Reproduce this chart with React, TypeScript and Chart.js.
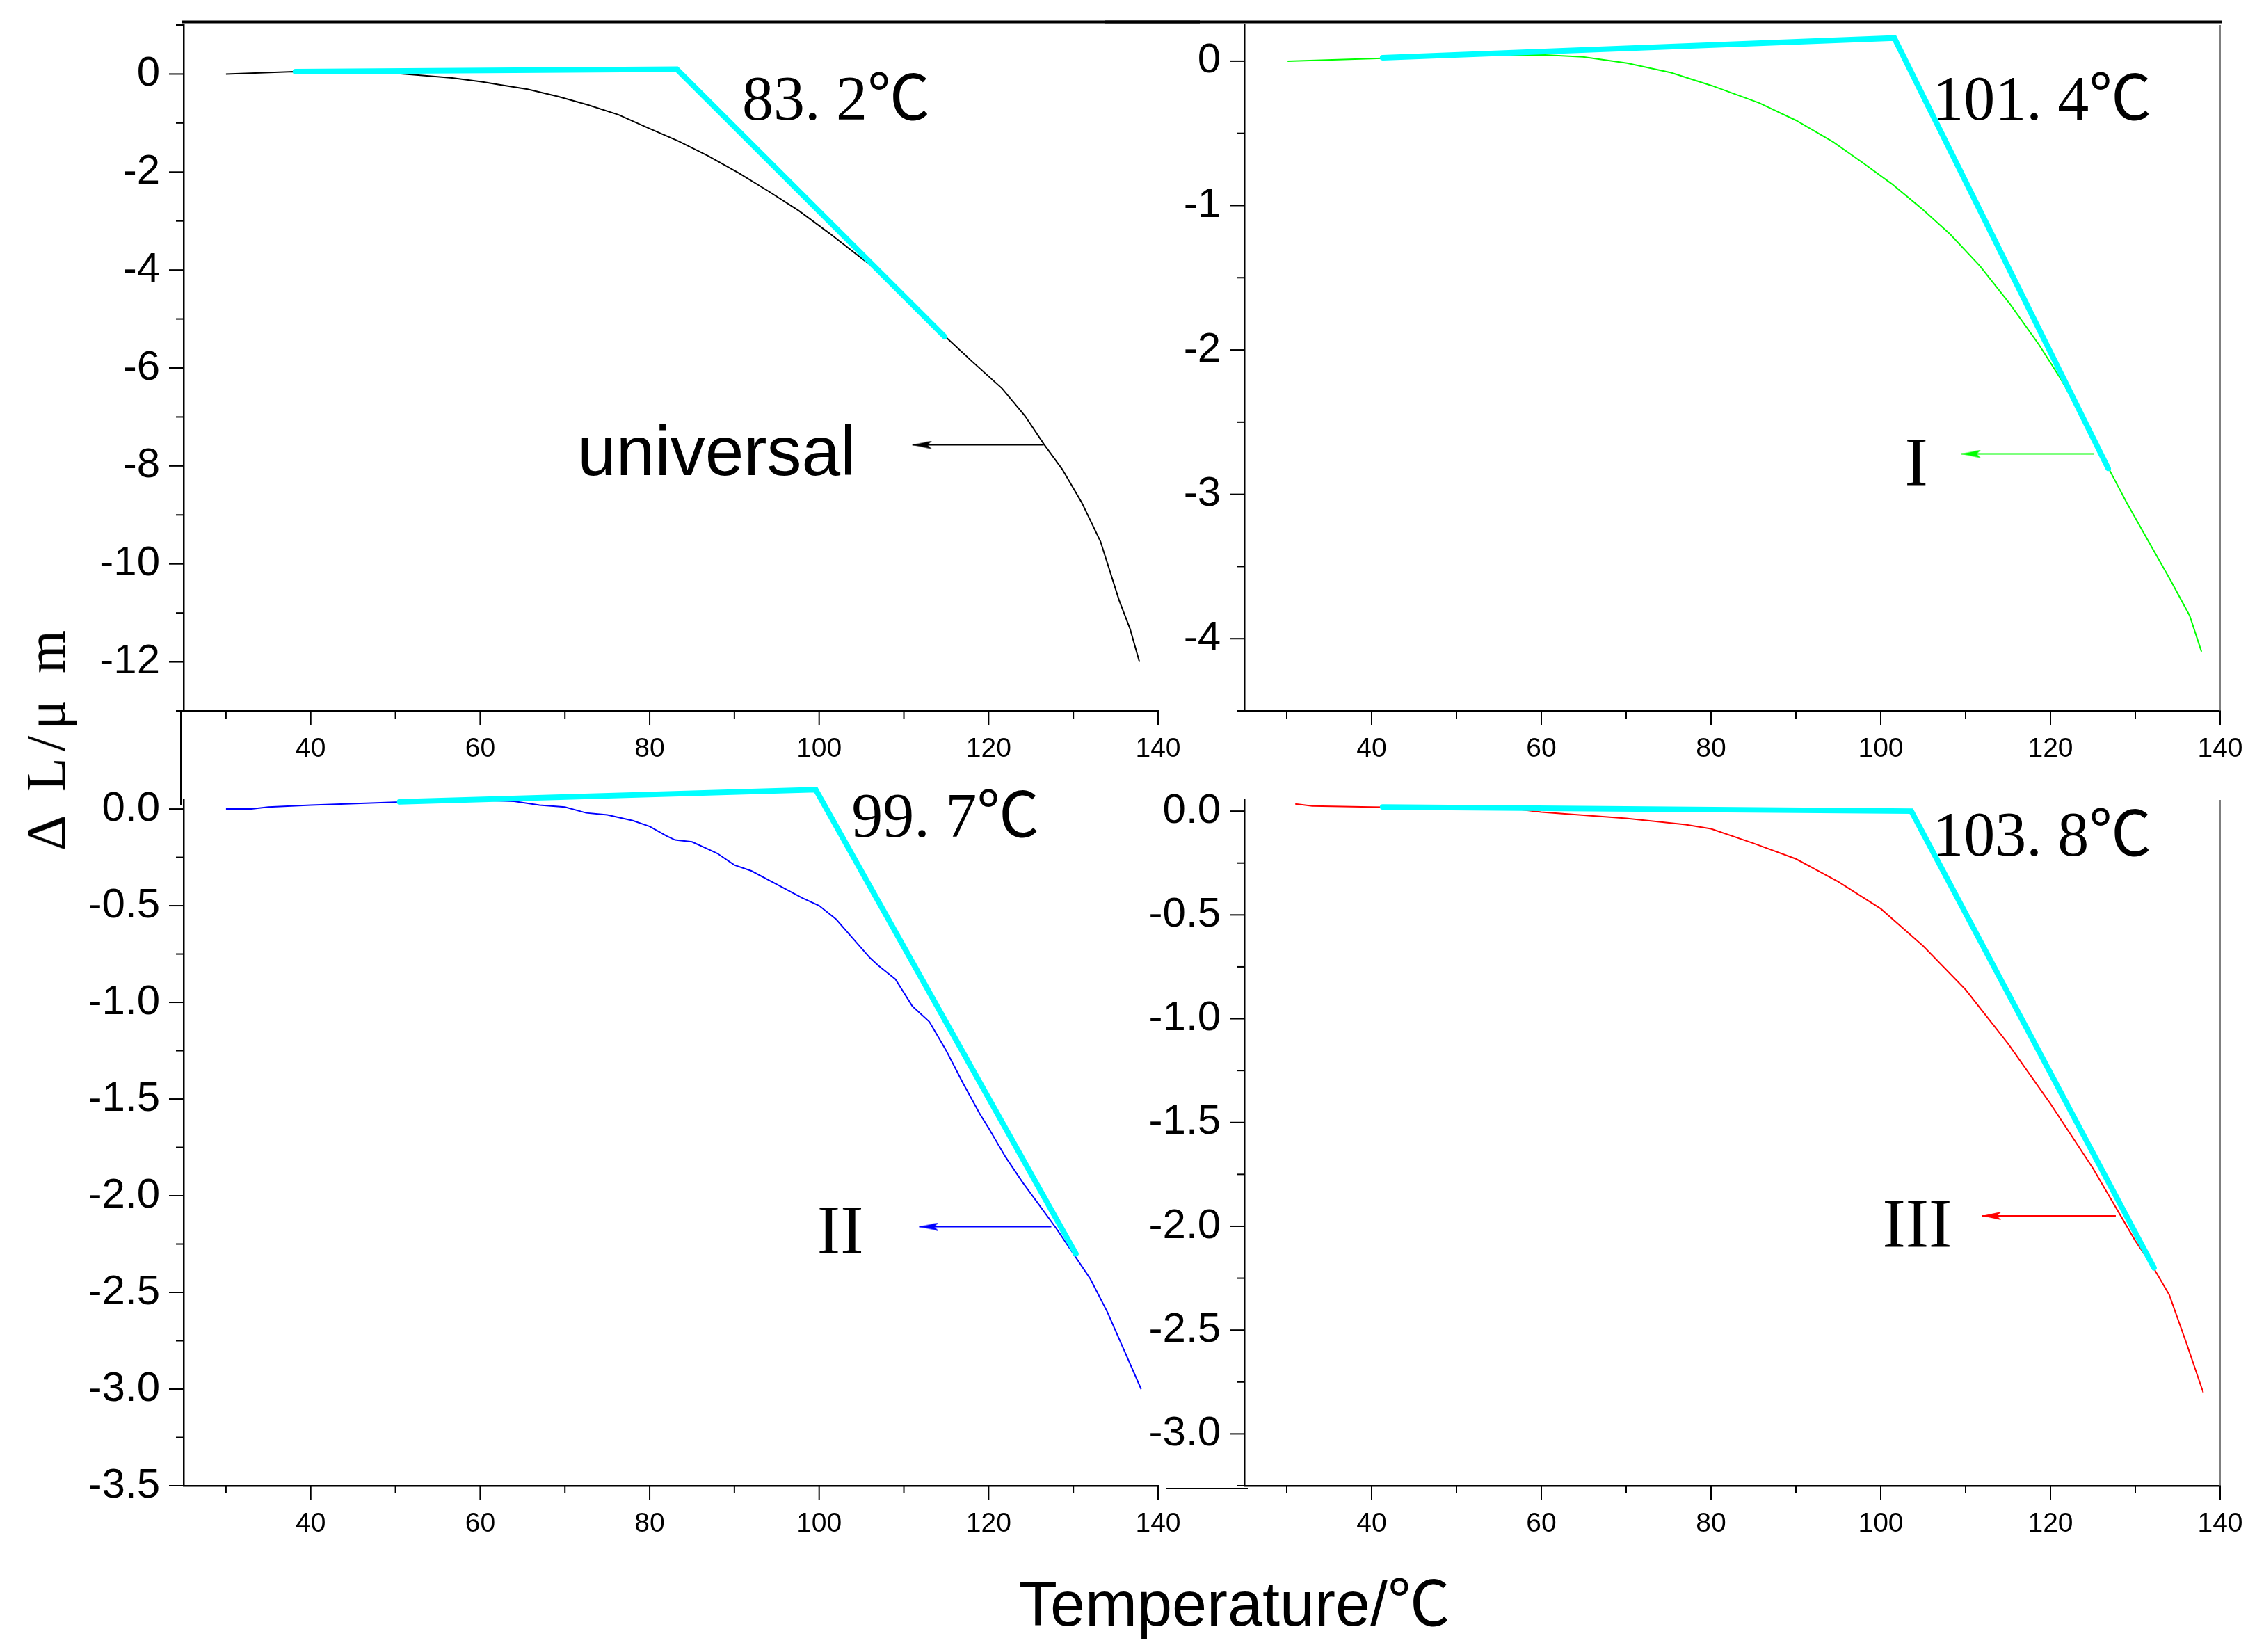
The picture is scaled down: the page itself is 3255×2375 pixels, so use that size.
import { useEffect, useRef } from 'react';
import { Chart, registerables } from 'chart.js';

Chart.register(...registerables);

// ---- values ----
const X_TICKS = [40, 60, 80, 100, 120, 140];

// universal (black)
const tempUniversal = [30, 38, 49.6, 53.2, 56.7, 60.3, 62, 65.6, 69.2, 72.7, 76.3, 79.8, 83.4, 86.9, 90.5, 94, 97.6, 101.2, 104.7, 106.9, 110, 114.9, 118, 121.6, 124.3, 126.5, 128.7, 131, 133.2, 135.4, 136.7, 137.8];
const dlUniversal = [0, 0.05, 0.02, -0.03, -0.08, -0.16, -0.21, -0.31, -0.46, -0.63, -0.83, -1.1, -1.37, -1.67, -2.02, -2.39, -2.79, -3.25, -3.72, -4.01, -4.51, -5.36, -5.86, -6.42, -6.98, -7.55, -8.07, -8.75, -9.54, -10.74, -11.33, -12.0];
const fitTUniversal = [38.2, 83.2, 114.8];
const fitVUniversal = [0.05, 0.1, -5.36];
const arrowTUniversal = [126.5, 111.0];
const arrowVUniversal = [-7.57, -7.57];
const yTicksUniversal = [0, -2, -4, -6, -8, -10, -12];

// I (green)
const tempI = [30.1, 40, 50.2, 60, 64.9, 70.1, 75.3, 80.1, 85.7, 90, 94.4, 97.8, 101.3, 104.8, 108.2, 111.7, 115.2, 118.6, 121.2, 123.8, 126.4, 129, 131.6, 134.2, 136.4, 137.8];
const dlI = [0, 0.017, 0.037, 0.044, 0.03, -0.014, -0.08, -0.17, -0.29, -0.41, -0.56, -0.7, -0.85, -1.02, -1.2, -1.42, -1.68, -1.96, -2.2, -2.47, -2.77, -3.06, -3.33, -3.6, -3.84, -4.09];
const fitTI = [41.3, 101.6, 126.8];
const fitVI = [0.024, 0.16, -2.82];
const arrowTI = [125.1, 109.5];
const arrowVI = [-2.72, -2.72];
const yTicksI = [0, -1, -2, -3, -4];

// II (blue)
const tempII = [30, 33, 35, 40, 50, 60, 64, 67, 70, 72.5, 75, 78, 80, 82, 83, 85, 87, 88, 90, 92, 95, 98, 100, 102, 104, 106, 107, 109, 111, 113, 115, 117, 119, 120, 122, 124, 126, 128, 130, 132, 134, 136, 138];
const dlII = [0, 0.0, 0.01, 0.02, 0.035, 0.045, 0.04, 0.02, 0.01, -0.02, -0.03, -0.06, -0.09, -0.14, -0.16, -0.17, -0.21, -0.23, -0.29, -0.32, -0.39, -0.46, -0.5, -0.57, -0.67, -0.77, -0.81, -0.88, -1.02, -1.1, -1.25, -1.42, -1.58, -1.65, -1.8, -1.93, -2.05, -2.17, -2.3, -2.43, -2.6, -2.8, -3.0];
const fitTII = [50.5, 99.6, 130.3];
const fitVII = [0.037, 0.1, -2.3];
const arrowTII = [127.4, 111.8];
const arrowVII = [-2.16, -2.16];
const yTicksII = [0, -0.5, -1, -1.5, -2, -2.5, -3, -3.5];

// III (red)
const tempIII = [31, 33, 40, 50, 57, 60, 70, 77, 80, 85, 90, 95, 100, 105, 110, 115, 120, 125, 130, 132, 134, 136, 138];
const dlIII = [0.035, 0.025, 0.02, 0.015, 0.01, -0.005, -0.035, -0.065, -0.085, -0.155, -0.23, -0.34, -0.47, -0.65, -0.86, -1.12, -1.41, -1.72, -2.07, -2.19, -2.33, -2.56, -2.8];
const fitTIII = [41.3, 103.6, 132.2];
const fitVIII = [0.02, 0.0, -2.2];
const arrowTIII = [127.7, 111.9];
const arrowVIII = [-1.95, -1.95];
const yTicksIII = [0, -0.5, -1, -1.5, -2, -2.5, -3];

// ---- layout ----
const Y_W = 160;
const X_H = 110;
const PAD = { left: 40, top: 50, right: 60, bottom: 60 };

const SANS = '"Liberation Sans", Arial, "Noto Sans CJK SC", sans-serif';
const SERIF = '"Liberation Serif", "Noto Sans CJK SC", serif';

function makeHead(color: string) {
  const L = 28;
  const H = 6;
  const c = document.createElement('canvas');
  c.width = L * 2;
  c.height = H * 2;
  const g = c.getContext('2d')!;
  g.fillStyle = color;
  g.beginPath();
  g.moveTo(L, H);
  g.lineTo(L * 2, 0);
  g.lineTo(L * 2 - 6, H);
  g.lineTo(L * 2, H * 2);
  g.closePath();
  g.fill();
  return c;
}

const originFrame = {
  id: 'originFrame',
  afterDraw(chart: any, _args: any, opts: any) {
    const { ctx, chartArea: a } = chart;
    const xs = chart.scales.x;
    const ys = chart.scales.y;
    const line = (x1: number, y1: number, x2: number, y2: number) => {
      ctx.beginPath();
      ctx.moveTo(x1, y1);
      ctx.lineTo(x2, y2);
      ctx.stroke();
    };
    const minors = (scale: any) => {
      const maj = scale.ticks.map((t: any) => t.value).sort((p: number, q: number) => p - q);
      const half = (maj[1] - maj[0]) / 2;
      const out: number[] = [];
      const cand = [maj[0] - half, ...maj.map((v: number) => v + half)];
      cand.forEach((v) => {
        if (v >= scale.min - 1e-9 && v <= scale.max + 1e-9) out.push(v);
      });
      return { maj, out };
    };
    ctx.save();
    ctx.strokeStyle = '#000';
    ctx.lineWidth = 2;
    const mx = minors(xs);
    mx.maj.forEach((v: number) => { const p = xs.getPixelForValue(v); line(p, a.bottom, p, a.bottom + 21); });
    mx.out.forEach((v: number) => { const p = xs.getPixelForValue(v); line(p, a.bottom, p, a.bottom + 11); });
    const my = minors(ys);
    my.maj.forEach((v: number) => { const p = ys.getPixelForValue(v); line(a.left, p, a.left - 21, p); });
    my.out.forEach((v: number) => { const p = ys.getPixelForValue(v); line(a.left, p, a.left - 11, p); });

    ctx.lineWidth = 4;
    if (opts.top === 'toRight') line(a.left - 2, a.top - 4.5, chart.width, a.top - 4.5);
    if (opts.top === 'toLeft') line(0, a.top - 4.5, a.right + 2, a.top - 4.5);
    ctx.lineWidth = 2;
    if (opts.leftDown) line(a.left - 4, a.bottom, a.left - 4, a.bottom + opts.leftDown);
    if (opts.bottomLeft) line(a.left - opts.bottomLeft, a.bottom + 4, a.left + 5, a.bottom + 4);
    if (opts.right) {
      ctx.strokeStyle = '#555';
      ctx.lineWidth = 1.5;
      line(a.right, a.top, a.right, a.bottom);
    }

    ctx.fillStyle = '#000';
    ctx.textAlign = 'center';
    ctx.textBaseline = 'middle';
    (opts.notes || []).forEach((n: any) => {
      ctx.font = `${n.size}px ${n.family}`;
      ctx.fillText(n.text, xs.getPixelForValue(n.x), ys.getPixelForValue(n.y));
    });
    ctx.restore();
  },
};

const pts = (xs: number[], ys: number[]) => xs.map((x, i) => ({ x, y: ys[i] }));

interface Spec {
  area: { l: number; t: number; r: number; b: number };
  temps: number[];
  values: number[];
  color: string;
  fitT: number[];
  fitV: number[];
  arrowT: number[];
  arrowV: number[];
  yMin: number;
  yMax: number;
  yTicks: number[];
  decimals: number;
  frame: any;
}

const PANELS: Spec[] = [
  {
    area: { l: 264, t: 36, r: 1665, b: 1022 },
    temps: tempUniversal, values: dlUniversal, color: '#000000',
    fitT: fitTUniversal, fitV: fitVUniversal, arrowT: arrowTUniversal, arrowV: arrowVUniversal,
    yMin: -13, yMax: 1, yTicks: yTicksUniversal, decimals: 0,
    frame: {
      top: 'toRight', leftDown: 135,
      notes: [
        { text: '83. 2℃', x: 102.0, y: -0.6, size: 90, family: SERIF },
        { text: 'universal', x: 87.9, y: -7.8, size: 100, family: SANS },
      ],
    },
  },
  {
    area: { l: 1789, t: 36, r: 3192, b: 1022 },
    temps: tempI, values: dlI, color: '#00FF00',
    fitT: fitTI, fitV: fitVI, arrowT: arrowTI, arrowV: arrowVI,
    yMin: -4.5, yMax: 0.25, yTicks: yTicksI, decimals: 0,
    frame: {
      top: 'toLeft', right: true,
      notes: [
        { text: '101. 4℃', x: 119.0, y: -0.29, size: 90, family: SERIF },
        { text: 'I', x: 104.2, y: -2.81, size: 100, family: SERIF },
      ],
    },
  },
  {
    area: { l: 264, t: 1150, r: 1665, b: 2136 },
    temps: tempII, values: dlII, color: '#0000FF',
    fitT: fitTII, fitV: fitVII, arrowT: arrowTII, arrowV: arrowVII,
    yMin: -3.5, yMax: 0.047, yTicks: yTicksII, decimals: 1,
    frame: {
      notes: [
        { text: '99. 7℃', x: 114.9, y: -0.06, size: 90, family: SERIF },
        { text: 'II', x: 102.5, y: -2.2, size: 100, family: SERIF },
      ],
    },
  },
  {
    area: { l: 1789, t: 1150, r: 3192, b: 2136 },
    temps: tempIII, values: dlIII, color: '#FF0000',
    fitT: fitTIII, fitV: fitVIII, arrowT: arrowTIII, arrowV: arrowVIII,
    yMin: -3.25, yMax: 0.054, yTicks: yTicksIII, decimals: 1,
    frame: {
      right: true, bottomLeft: 113,
      notes: [
        { text: '103. 8℃', x: 119.0, y: -0.135, size: 90, family: SERIF },
        { text: 'III', x: 104.3, y: -2.01, size: 100, family: SERIF },
      ],
    },
  },
];

function boxOf(s: Spec) {
  const { l, t, r, b } = s.area;
  return {
    left: l - Y_W - PAD.left,
    top: t - PAD.top,
    w: r - l + Y_W + PAD.left + PAD.right,
    h: b - t + X_H + PAD.top + PAD.bottom,
  };
}

function Panel({ spec }: { spec: Spec }) {
  const ref = useRef<HTMLCanvasElement>(null);
  const box = boxOf(spec);

  useEffect(() => {
    if (!ref.current) return;
    const head = makeHead(spec.color);
    const chart = new Chart(ref.current, {
      type: 'line',
      data: {
        datasets: [
          {
            data: pts(spec.fitT, spec.fitV),
            borderColor: '#00FFFF',
            borderWidth: 8,
            borderCapStyle: 'round',
            borderJoinStyle: 'miter',
            pointRadius: 0,
            tension: 0,
            clip: false,
          },
          {
            data: pts(spec.arrowT, spec.arrowV),
            borderColor: spec.color,
            borderWidth: 2,
            pointRadius: [0, 5],
            pointStyle: head,
            tension: 0,
            clip: false,
          },
          {
            data: pts(spec.temps, spec.values),
            borderColor: spec.color,
            borderWidth: 2,
            pointRadius: 0,
            tension: 0,
            clip: false,
          },
        ],
      } as any,
      options: {
        responsive: false,
        animation: false,
        devicePixelRatio: 1,
        events: [],
        layout: { padding: PAD },
        plugins: {
          legend: { display: false },
          tooltip: { enabled: false },
          originFrame: spec.frame,
        } as any,
        scales: {
          x: {
            type: 'linear',
            min: 25,
            max: 140,
            afterBuildTicks: (s: any) => { s.ticks = X_TICKS.map((value) => ({ value })); },
            afterFit: (s: any) => { s.height = X_H; },
            grid: { display: true, drawOnChartArea: false, drawTicks: true, tickLength: 21, tickColor: 'rgba(0,0,0,0)' },
            border: { display: true, color: '#000', width: 2.5 },
            ticks: {
              autoSkip: false,
              maxRotation: 0,
              padding: 11,
              color: '#000',
              font: { family: SANS, size: 39 },
              callback: (v: any) => String(v),
            },
          },
          y: {
            type: 'linear',
            min: spec.yMin,
            max: spec.yMax,
            afterBuildTicks: (s: any) => { s.ticks = spec.yTicks.map((value) => ({ value })); },
            afterFit: (s: any) => { s.width = Y_W; },
            grid: { display: true, drawOnChartArea: false, drawTicks: true, tickLength: 21, tickColor: 'rgba(0,0,0,0)' },
            border: { display: true, color: '#000', width: 2.5 },
            ticks: {
              autoSkip: false,
              padding: 13,
              color: '#000',
              font: { family: SANS, size: 60 },
              callback: (v: any) => Number(v).toFixed(spec.decimals),
            },
          },
        },
      } as any,
      plugins: [originFrame],
    });
    return () => chart.destroy();
  }, []);

  return (
    <canvas
      ref={ref}
      width={box.w}
      height={box.h}
      style={{ position: 'absolute', left: box.left, top: box.top, width: box.w, height: box.h }}
    />
  );
}

export default function App() {
  return (
    <div
      style={{
        position: 'absolute',
        left: 0,
        top: 0,
        width: 3255,
        height: 2375,
        overflow: 'hidden',
        background: '#fff',
      }}
    >
      {PANELS.map((p, i) => (
        <Panel key={i} spec={p} />
      ))}
      <div
        style={{
          position: 'absolute',
          left: 66,
          top: 1060,
          transform: 'translate(-50%, -50%) rotate(-90deg)',
          whiteSpace: 'nowrap',
          fontFamily: SERIF,
          fontSize: 80,
          lineHeight: '80px',
          letterSpacing: 9,
          color: '#000',
        }}
      >
        Δ L/μ m
      </div>
      <div
        style={{
          position: 'absolute',
          left: 1775,
          top: 2261,
          transform: 'translateX(-50%)',
          whiteSpace: 'nowrap',
          fontFamily: SANS,
          fontSize: 90,
          lineHeight: '90px',
          color: '#000',
        }}
      >
        Temperature/℃
      </div>
    </div>
  );
}
